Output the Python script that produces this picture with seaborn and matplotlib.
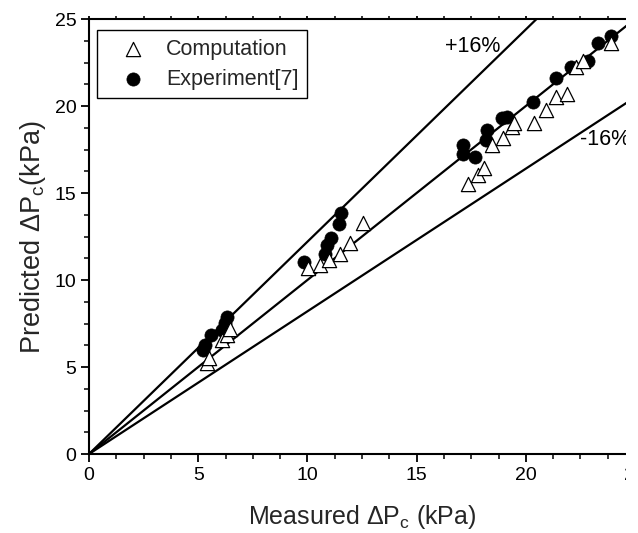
import matplotlib
matplotlib.use("Agg")
import matplotlib.pyplot as plt
import seaborn as sns
import pandas as pd
from matplotlib.ticker import MultipleLocator
from matplotlib.patches import Rectangle

# ---- data ----
comp_x = [5.39, 5.50, 6.07, 6.30, 6.45,
          10.04, 10.57, 11.00, 11.49, 11.95, 12.55,
          17.36, 17.79, 18.09, 18.46, 18.96, 19.35, 19.46, 20.38, 20.94,
          21.40, 21.90, 22.30, 22.60, 23.90]
comp_y = [5.25, 5.50, 6.55, 6.84, 7.16,
          10.67, 10.86, 11.15, 11.49, 12.10, 13.26,
          15.52, 16.03, 16.42, 17.76, 18.18, 18.77, 19.00, 19.04, 19.77,
          20.50, 20.67, 22.26, 22.60, 23.60]

exp_x = [5.23, 5.31, 5.57, 6.07, 6.22, 6.30,
         9.85, 10.80, 10.92, 11.08, 11.46, 11.53,
         17.13, 17.13, 17.67, 18.17, 18.23, 18.90, 19.16, 20.33,
         21.36, 22.06, 22.85, 23.30, 23.90]
exp_y = [5.98, 6.26, 6.84, 7.13, 7.51, 7.86,
         11.05, 11.49, 12.00, 12.40, 13.22, 13.83,
         17.24, 17.76, 17.09, 18.05, 18.62, 19.30, 19.38, 20.25,
         21.60, 22.26, 22.60, 23.60, 24.00]

ref_slopes = [1.22, 1.0, 0.82]
band_labels = ["+16%", "-16%"]
band_label_pos = [(16.3, 23.4), (22.47, 18.05)]
series_labels = ["Computation", "Experiment[7]"]
ticks = [0, 5, 10, 15, 20, 25]

comp_df = pd.DataFrame({"measured": comp_x, "predicted": comp_y})
exp_df = pd.DataFrame({"measured": exp_x, "predicted": exp_y})

sns.set_theme(style="ticks")
plt.rcParams['font.family'] = ['Liberation Sans', 'DejaVu Sans']
plt.rcParams['mathtext.fontset'] = 'custom'
plt.rcParams['mathtext.rm'] = 'Liberation Sans'
plt.rcParams['mathtext.it'] = 'Liberation Sans:italic'

fig = plt.figure(figsize=(6.38, 5.33), dpi=100)
ax = fig.add_axes([0.1395, 0.1482, 0.8558, 0.8161])

for k in ref_slopes:
    ax.axline((0, 0), slope=k, color="black", lw=1.6, zorder=1)

sns.scatterplot(data=exp_df, x="measured", y="predicted", ax=ax,
                marker="o", s=90, color="black", edgecolor="black",
                linewidth=0.5, label=series_labels[1], zorder=3)
sns.scatterplot(data=comp_df, x="measured", y="predicted", ax=ax,
                marker="^", s=105, color="white", edgecolor="black",
                linewidth=0.9, label=series_labels[0], zorder=4)

for txt, (tx, ty) in zip(band_labels, band_label_pos):
    ax.text(tx, ty, txt, fontsize=15.5, ha="left", va="center", color="black")

ax.set_xlim(0, 25)
ax.set_ylim(0, 25)
ax.set_xticks(ticks)
ax.set_yticks(ticks)
ax.xaxis.set_minor_locator(MultipleLocator(1.25))
ax.yaxis.set_minor_locator(MultipleLocator(1.25))
ax.tick_params(axis="both", which="major", direction="out", length=6,
               width=1.3, labelsize=14, colors="black", pad=3)
ax.tick_params(axis="both", which="minor", direction="out", length=3.5,
               width=1.3)
ax.tick_params(axis="x", which="both", top=True)
ax.tick_params(axis="y", which="both", right=False)

# shorter top ticks
for t in ax.xaxis.get_major_ticks() + ax.xaxis.get_minor_ticks():
    t.tick2line.set_markersize(2.5)

for sp in ax.spines.values():
    sp.set_linewidth(1.5)
    sp.set_color("black")

ax.set_xlabel("Measured \u0394P$_\\mathrm{c}$ (kPa)", fontsize=18, labelpad=14)
ax.set_ylabel("Predicted \u0394P$_\\mathrm{c}$(kPa)", fontsize=19.5, labelpad=5)

handles, labels = ax.get_legend_handles_labels()
order = [labels.index(series_labels[0]), labels.index(series_labels[1])]
leg = ax.legend([handles[i] for i in order], [labels[i] for i in order],
                loc="upper left", bbox_to_anchor=(0.0147, 0.9747),
                borderaxespad=0, fontsize=15.5, frameon=True, fancybox=False,
                edgecolor="black", framealpha=1, handlelength=2.5,
                handletextpad=0.3, borderpad=0.4, labelspacing=0.42)
leg.get_frame().set_linewidth(1.0)

# the reference image is cut just before the right spine
fig.patches.append(Rectangle((0.981, 0), 0.019, 1, transform=fig.transFigure,
                             facecolor="white", edgecolor="none", zorder=10))

fig.savefig("out.png", dpi=100)
